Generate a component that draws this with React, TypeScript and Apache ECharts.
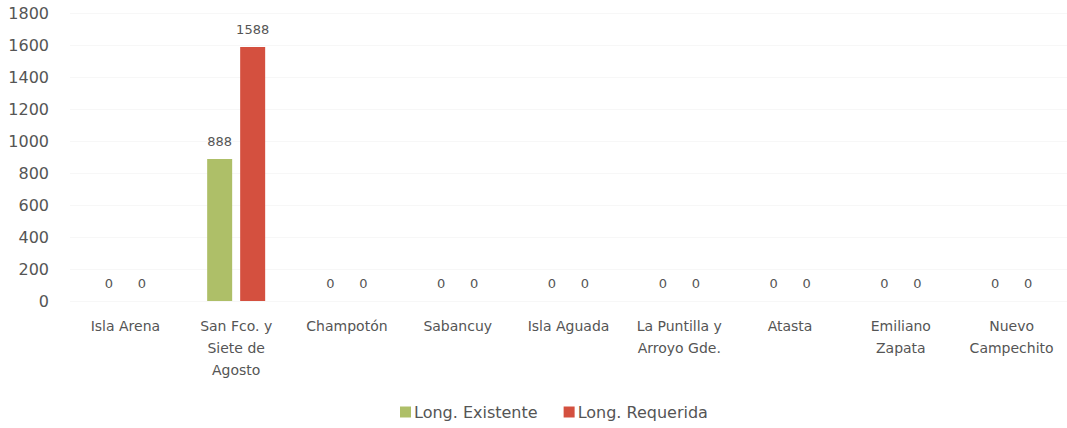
import React, { useEffect, useRef } from "react";
import * as echarts from "echarts";

const categories = [
  "Isla Arena",
  "San Fco. y\nSiete de\nAgosto",
  "Champotón",
  "Sabancuy",
  "Isla Aguada",
  "La Puntilla y\nArroyo Gde.",
  "Atasta",
  "Emiliano\nZapata",
  "Nuevo\nCampechito",
];
const existente = [0, 888, 0, 0, 0, 0, 0, 0, 0];
const requerida = [0, 1588, 0, 0, 0, 0, 0, 0, 0];
const yTicks = { min: 0, max: 1800, interval: 200 };

const FONT = "DejaVu Sans";
const TXT = "#555555";

export default function App() {
  const ref = useRef<HTMLDivElement>(null);
  useEffect(() => {
    if (!ref.current) return;
    const chart = echarts.init(ref.current, null, { renderer: "svg" });
    const label = {
      show: true,
      position: "top",
      distance: 11,
      color: TXT,
      fontFamily: FONT,
      fontSize: 13,
    };
    chart.setOption({
      animation: false,
      backgroundColor: "#ffffff",
      grid: { left: 70, right: 0, top: 13, bottom: 127, containLabel: false },
      legend: {
        bottom: 3,
        left: 395,
        itemWidth: 11,
        itemHeight: 11,
        itemGap: 26,
        icon: "rect",
        textStyle: { color: TXT, fontFamily: FONT, fontSize: 16, padding: [0, 0, 0, -2] },
        data: ["Long. Existente", "Long. Requerida"],
      },
      xAxis: {
        type: "category",
        data: categories,
        axisLine: { show: false },
        axisTick: { show: false },
        axisLabel: {
          color: TXT,
          fontFamily: FONT,
          fontSize: 14,
          lineHeight: 22,
          margin: 14,
          interval: 0,
        },
      },
      yAxis: {
        type: "value",
        min: yTicks.min,
        max: yTicks.max,
        interval: yTicks.interval,
        axisLine: { show: false },
        axisTick: { show: false },
        axisLabel: {
          color: TXT,
          fontFamily: FONT,
          fontSize: 16,
          margin: 21,
          formatter: (v: number) => String(v),
        },
        splitLine: { lineStyle: { color: "#f7f7f7", width: 1 } },
      },
      series: [
        {
          name: "Long. Existente",
          type: "bar",
          data: existente,
          barWidth: 25,
          barGap: "32%",
          itemStyle: { color: "#aebf68" },
          label,
        },
        {
          name: "Long. Requerida",
          type: "bar",
          data: requerida,
          barWidth: 25,
          itemStyle: { color: "#d4503f" },
          label,
        },
      ],
    });
    return () => chart.dispose();
  }, []);
  return (
    <div
      ref={ref}
      style={{ position: "absolute", left: 0, top: 0, width: 1067, height: 428 }}
    />
  );
}
